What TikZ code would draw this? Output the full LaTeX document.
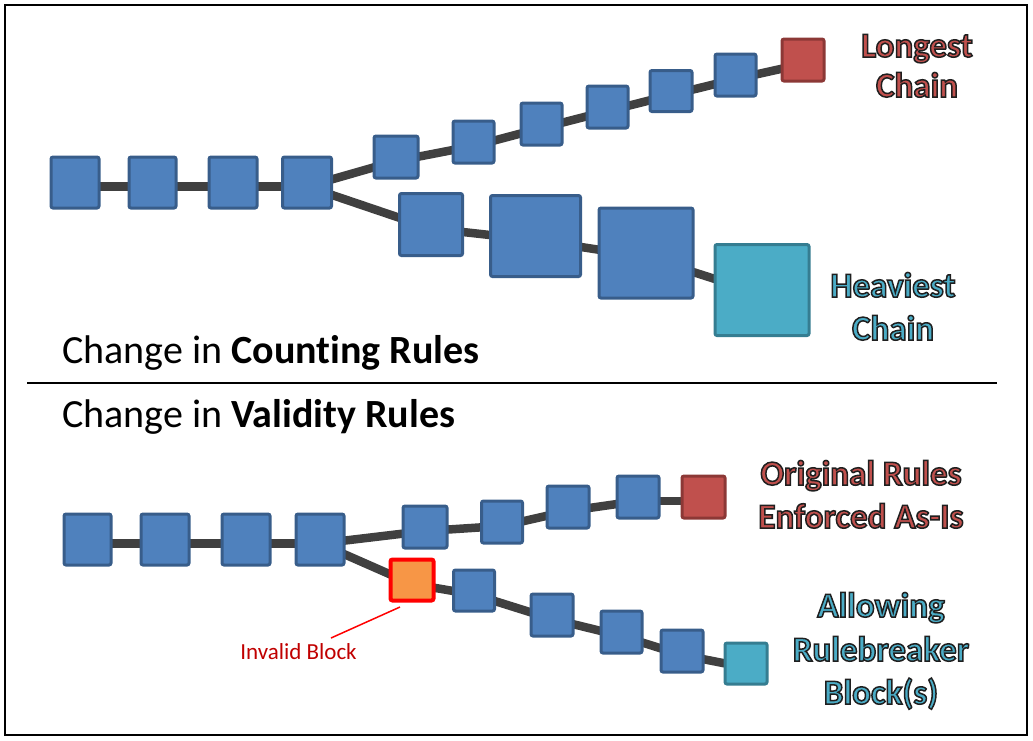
\documentclass[tikz,border=0pt]{standalone}
\usepackage{fontspec}
\setmainfont{Carlito}[Ligatures=NoCommon]
\usetikzlibrary{backgrounds}
\definecolor{bfill}{HTML}{4F81BD}
\definecolor{bdraw}{HTML}{385D8A}
\definecolor{rfill}{HTML}{C0504D}
\definecolor{rdraw}{HTML}{8C3836}
\definecolor{tfill}{HTML}{4BACC6}
\definecolor{tdraw}{HTML}{357D91}
\definecolor{ofill}{HTML}{F79646}
\definecolor{odraw}{HTML}{FF0000}
\definecolor{lineg}{HTML}{404040}
\definecolor{invc}{HTML}{C00000}
\newcommand\olt[1]{\special{pdf:literal direct 2 Tr 1.5 w 0.12 0.12 0.12 RG}#1\special{pdf:literal direct 0 Tr}}
\newcommand\cn[2]{\draw[conn] ([yshift=-4pt]#1.center) -- ([yshift=-4pt]#2.center);}
\begin{document}
\begin{tikzpicture}[x=1pt,y=-1pt,
  wh/.style n args={2}{minimum width=#1pt,minimum height=#2pt},
  blk/.style={draw=bdraw, fill=bfill, line width=3pt, rounded corners=2pt, inner sep=0pt},
  redb/.style={blk, draw=rdraw, fill=rfill},
  tealb/.style={blk, draw=tdraw, fill=tfill},
  invb/.style={blk, draw=odraw, fill=ofill, line width=4pt},
  conn/.style={draw=lineg, line width=8.5pt},
  lbl/.style={inner sep=0pt, anchor=base, font=\fontsize{35}{43}\selectfont\bfseries},
  redl/.style={lbl, text=rfill},
  teall/.style={lbl, text=tfill},
  ttl/.style={inner sep=0pt, anchor=base west, font=\fontsize{40}{48}\selectfont}]
\useasboundingbox (0,0) rectangle (1033,740);
\draw[line width=2pt] (5,5) rectangle (1027,735);
\draw[line width=1.6pt] (27,383) -- (997,383);
% ---------- top section ----------
\node[blk, wh={48}{51}] (a1) at (75,182.5) {};
\node[blk, wh={47}{51}] (a2) at (152.5,182.5) {};
\node[blk, wh={48}{51}] (a3) at (233,182.5) {};
\node[blk, wh={49}{51}] (a4) at (307,182.5) {};
\node[blk, wh={44}{42}] (b1) at (396,157) {};
\node[blk, wh={41}{42}] (b2) at (473.5,142) {};
\node[blk, wh={41}{42}] (b3) at (541.5,124) {};
\node[blk, wh={41}{42}] (b4) at (607.5,107) {};
\node[blk, wh={42}{41}] (b5) at (671,91) {};
\node[blk, wh={41}{42}] (b6) at (735.5,75) {};
\node[redb, wh={42}{42}] (r1) at (803,60) {};
\node[blk, wh={63}{62}] (c1) at (431,224.5) {};
\node[blk, wh={90}{81}] (c2) at (535.5,236) {};
\node[blk, wh={94}{90}] (c3) at (646,253) {};
\node[tealb, wh={94}{91}] (t1) at (762,290) {};
\begin{scope}[on background layer]
\cn{a1}{a2}\cn{a2}{a3}\cn{a3}{a4}
\cn{a4}{b1}\cn{b1}{b2}\cn{b2}{b3}\cn{b3}{b4}\cn{b4}{b5}\cn{b5}{b6}\cn{b6}{r1}
\cn{a4}{c1}\cn{c1}{c2}\cn{c2}{c3}\cn{c3}{t1}
\end{scope}
\node[redl] (l1a) at (917,57) {\olt{Longest}};
\node[redl] (l1b) at (917,97) {\olt{Chain}};
\node[teall] (l2a) at (893,297) {\olt{Heaviest}};
\node[teall] (l2b) at (893,340) {\olt{Chain}};
\node[ttl] (t1txt) at (62,363) {Change in \textbf{Counting Rules}};
\node[ttl] (t2txt) at (62,427) {Change in \textbf{Validity Rules}};
% ---------- bottom section ----------
\node[blk, wh={47}{51}] (m1) at (87.5,539.5) {};
\node[blk, wh={48}{51}] (m2) at (165,539.5) {};
\node[blk, wh={48}{51}] (m3) at (246,539.5) {};
\node[blk, wh={48}{51}] (m4) at (320,539.5) {};
\node[blk, wh={44}{42}] (u1) at (425,527) {};
\node[blk, wh={41}{42}] (u2) at (502,522) {};
\node[blk, wh={42}{42}] (u3) at (568,507) {};
\node[blk, wh={42}{42}] (u4) at (638,497) {};
\node[redb, wh={43}{42}] (r2) at (703.5,497) {};
\node[invb, wh={43}{41}] (o1) at (412,580) {};
\node[blk, wh={41}{41}] (d1) at (474,590.5) {};
\node[blk, wh={42}{42}] (d2) at (552,615) {};
\node[blk, wh={41}{42}] (d3) at (621.5,632) {};
\node[blk, wh={42}{42}] (d4) at (682,651) {};
\node[tealb, wh={42}{41}] (t2) at (746,663.5) {};
\begin{scope}[on background layer]
\cn{m1}{m2}\cn{m2}{m3}\cn{m3}{m4}
\cn{m4}{u1}\cn{u1}{u2}\cn{u2}{u3}\cn{u3}{u4}\cn{u4}{r2}
\cn{m4}{o1}\cn{o1}{d1}\cn{d1}{d2}\cn{d2}{d3}\cn{d3}{d4}\cn{d4}{t2}
\end{scope}
\node[redl] (l3a) at (861,485) {\olt{Original Rules}};
\node[redl] (l3b) at (861,528) {\olt{Enforced As-Is}};
\node[teall] (l4a) at (881,617) {\olt{Allowing}};
\node[teall] (l4b) at (881,661) {\olt{Rulebreaker}};
\node[teall] (l4c) at (881,704) {\olt{Block(s)}};
\node[inner sep=0pt, anchor=base, text=invc, font=\fontsize{23}{27}\selectfont] (inv) at (298.5,659) {Invalid Block};
\coordinate (pin1) at (400,607);
\coordinate (pin2) at (331,638);
\draw[red, line width=1.5pt] (pin2) -- (pin1);
\end{tikzpicture}
\end{document}
